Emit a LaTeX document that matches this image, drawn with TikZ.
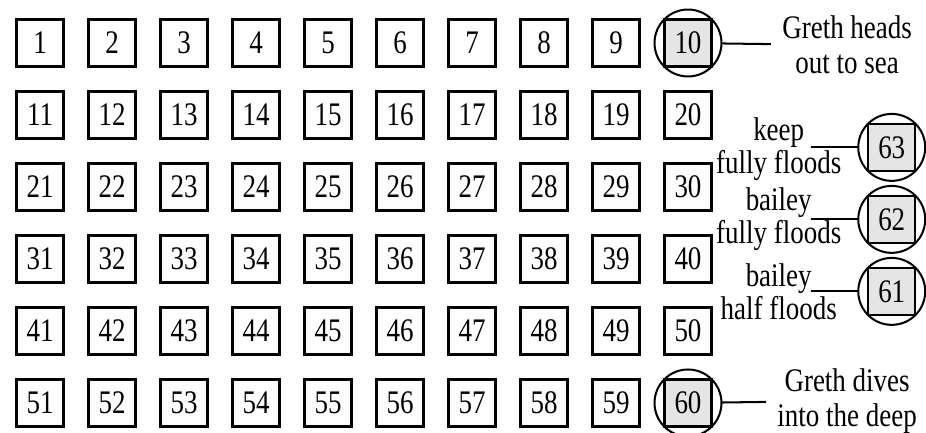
\documentclass[tikz,border=0pt]{standalone}
\usepackage{fontspec}
\setmainfont[FakeStretch=0.82]{Liberation Serif}

\begin{document}
\begin{tikzpicture}[x={(0cm,-1cm)},y={(1cm,0cm)},every node/.style={outer sep=0pt, font=\fontsize{13}{13.8}\selectfont},
  sq/.style={draw, line width=0.9pt, minimum size=0.65cm, inner sep=0pt},
  hl/.style={sq, fill=black!10},
  ring/.style={draw, circle, line width=0.8pt, minimum size=0.93cm, inner sep=0pt},
  note/.style={align=center, inner xsep=4.5pt},
  sidenote/.style={align=center, font=\fontsize{13}{11.9}\selectfont}]

\useasboundingbox (-0.597,-0.556) rectangle (5.417,12.306);

\node[sq] (b1) at (0,0) {1};
\node[sq] (b2) at (0,1) {2};
\node[sq] (b3) at (0,2) {3};
\node[sq] (b4) at (0,3) {4};
\node[sq] (b5) at (0,4) {5};
\node[sq] (b6) at (0,5) {6};
\node[sq] (b7) at (0,6) {7};
\node[sq] (b8) at (0,7) {8};
\node[sq] (b9) at (0,8) {9};
\node[hl] (b10) at (0,9) {10};
\node[sq] (b11) at (1,0) {11};
\node[sq] (b12) at (1,1) {12};
\node[sq] (b13) at (1,2) {13};
\node[sq] (b14) at (1,3) {14};
\node[sq] (b15) at (1,4) {15};
\node[sq] (b16) at (1,5) {16};
\node[sq] (b17) at (1,6) {17};
\node[sq] (b18) at (1,7) {18};
\node[sq] (b19) at (1,8) {19};
\node[sq] (b20) at (1,9) {20};
\node[sq] (b21) at (2,0) {21};
\node[sq] (b22) at (2,1) {22};
\node[sq] (b23) at (2,2) {23};
\node[sq] (b24) at (2,3) {24};
\node[sq] (b25) at (2,4) {25};
\node[sq] (b26) at (2,5) {26};
\node[sq] (b27) at (2,6) {27};
\node[sq] (b28) at (2,7) {28};
\node[sq] (b29) at (2,8) {29};
\node[sq] (b30) at (2,9) {30};
\node[sq] (b31) at (3,0) {31};
\node[sq] (b32) at (3,1) {32};
\node[sq] (b33) at (3,2) {33};
\node[sq] (b34) at (3,3) {34};
\node[sq] (b35) at (3,4) {35};
\node[sq] (b36) at (3,5) {36};
\node[sq] (b37) at (3,6) {37};
\node[sq] (b38) at (3,7) {38};
\node[sq] (b39) at (3,8) {39};
\node[sq] (b40) at (3,9) {40};
\node[sq] (b41) at (4,0) {41};
\node[sq] (b42) at (4,1) {42};
\node[sq] (b43) at (4,2) {43};
\node[sq] (b44) at (4,3) {44};
\node[sq] (b45) at (4,4) {45};
\node[sq] (b46) at (4,5) {46};
\node[sq] (b47) at (4,6) {47};
\node[sq] (b48) at (4,7) {48};
\node[sq] (b49) at (4,8) {49};
\node[sq] (b50) at (4,9) {50};
\node[sq] (b51) at (5,0) {51};
\node[sq] (b52) at (5,1) {52};
\node[sq] (b53) at (5,2) {53};
\node[sq] (b54) at (5,3) {54};
\node[sq] (b55) at (5,4) {55};
\node[sq] (b56) at (5,5) {56};
\node[sq] (b57) at (5,6) {57};
\node[sq] (b58) at (5,7) {58};
\node[sq] (b59) at (5,8) {59};
\node[hl] (b60) at (5,9) {60};

\node[hl] (b63) at (1.45,11.83) {63};
\node[hl] (b62) at (2.45,11.83) {62};
\node[hl] (b61) at (3.45,11.83) {61};

\node[ring] (c10) at (0,9) {};
\node[ring] (c60) at (5,9) {};
\node[ring] (c63) at (1.45,11.83) {};
\node[ring] (c62) at (2.45,11.83) {};
\node[ring] (c61) at (3.45,11.83) {};

\node[note] (t10) at (0.03,11.21) {Greth heads\\out to sea};
\node[note] (t60) at (4.97,11.21) {Greth dives\\into the deep};
\node[sidenote] (t63) at (1.47,10.26) {keep\\fully floods};
\node[sidenote] (t62) at (2.45,10.26) {bailey\\fully floods};
\node[sidenote] (t61) at (3.45,10.26) {bailey\\half floods};
\coordinate (l63) at (1.45,10.71);
\coordinate (l62) at (2.45,10.71);
\coordinate (l61) at (3.45,10.71);

\draw[line width=0.8pt] (c10) -- (t10);
\draw[line width=0.8pt] (c60) -- (t60);
\draw[line width=0.8pt] (l63) -- (c63);
\draw[line width=0.8pt] (l62) -- (c62);
\draw[line width=0.8pt] (l61) -- (c61);
\end{tikzpicture}
\end{document}
